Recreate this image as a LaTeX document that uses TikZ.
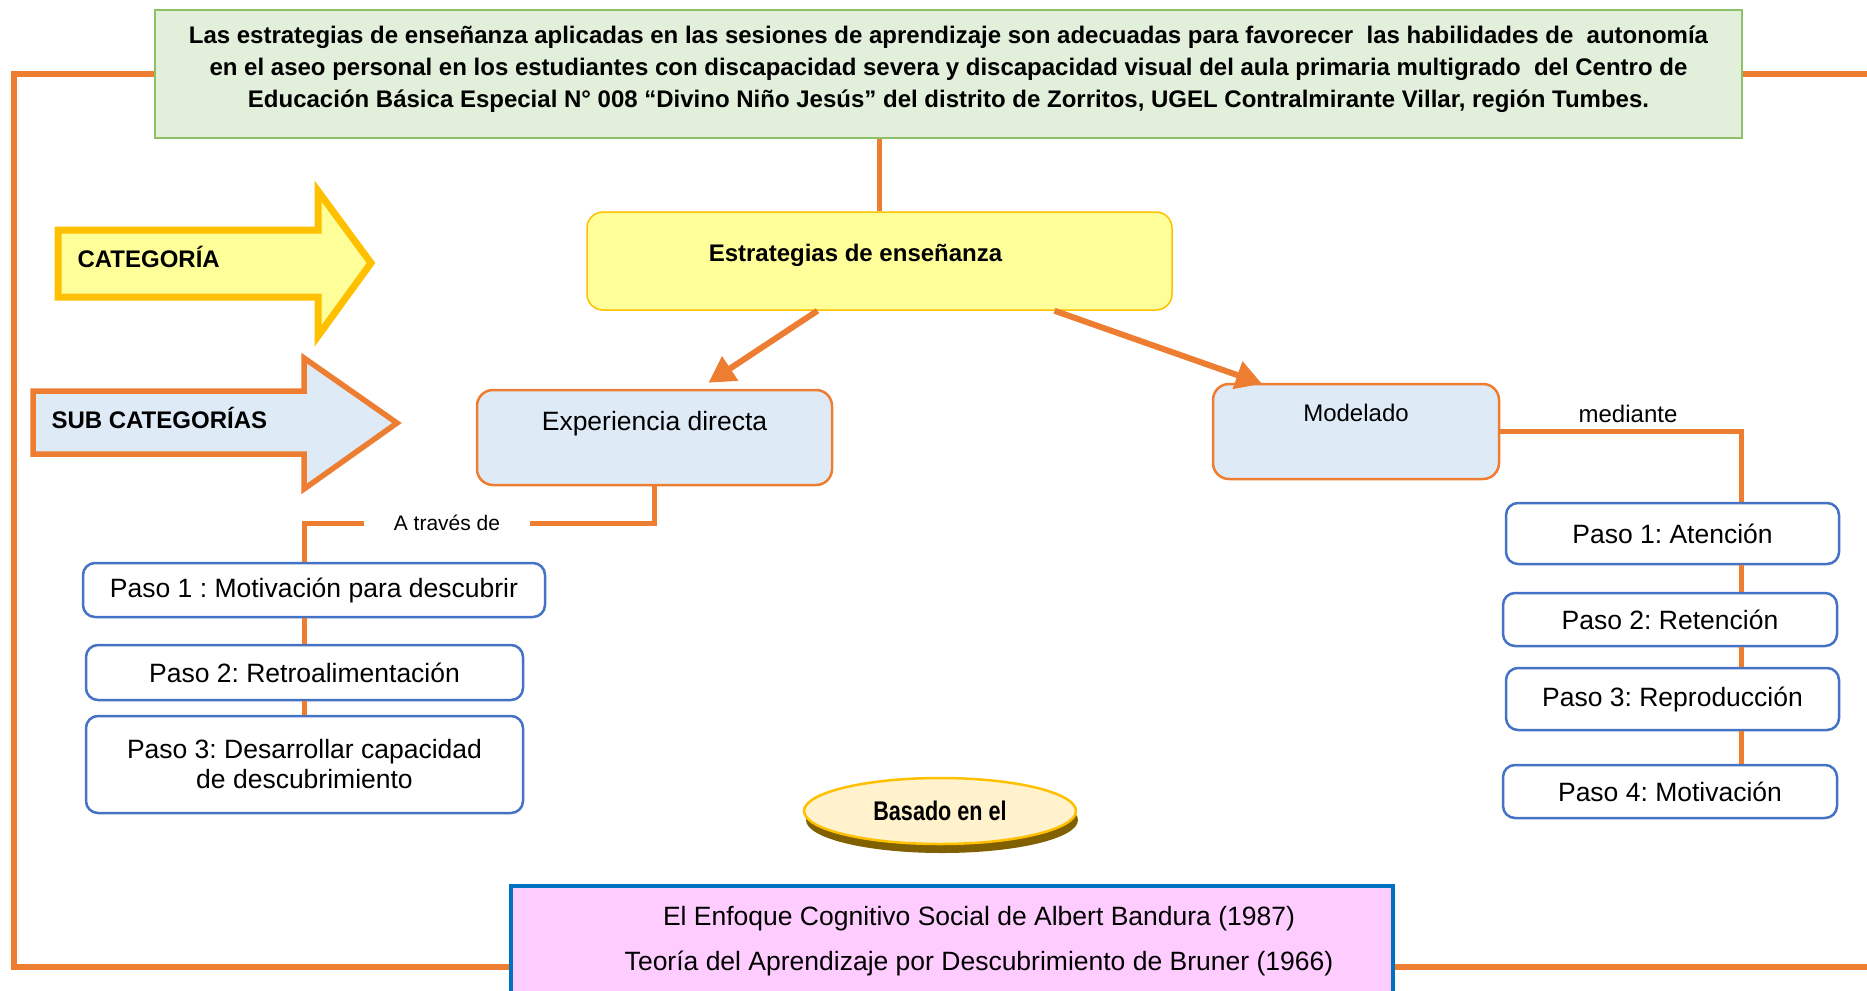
\documentclass[tikz,border=0pt]{standalone}
\usepackage{fontspec}
\setmainfont{Liberation Sans}
\newfontfamily\estrecha[FakeStretch=0.8]{Liberation Sans}
\usetikzlibrary{arrows.meta, shapes.geometric, shadows, positioning, calc}
\tikzset{>=Stealth}
\frenchspacing

\definecolor{naranja}{HTML}{ED7D31}
\definecolor{verdeclaro}{HTML}{E2EFDA}
\definecolor{verdeborde}{HTML}{8CC168}
\definecolor{amarillo}{HTML}{FFFF99}
\definecolor{oro}{HTML}{FFC000}
\definecolor{celeste}{HTML}{DEEBF7}
\definecolor{azulpaso}{HTML}{4472C4}
\definecolor{azulborde}{HTML}{0070C0}
\definecolor{rosa}{HTML}{FFCCFF}
\definecolor{crema}{HTML}{FFF2CC}
\definecolor{sombra}{HTML}{806000}

\tikzset{
  enlace/.style={draw=naranja, line width=5pt},
  marco/.style={draw=naranja, line width=6pt},
  flecha/.style={draw=naranja, line width=6pt, -{Triangle[length=26pt,width=28pt]}},
  pasobox/.style={draw=azulpaso, line width=2.5pt, fill=white, rounded corners=12pt,
    inner sep=0pt, align=center, font=\fontsize{26.5}{30}\selectfont},
  subbox/.style={draw=naranja, line width=2.5pt, fill=celeste, rounded corners=16pt,
    inner sep=0pt},
}

\begin{document}
\begin{tikzpicture}[x=1pt, y=-1pt]
\useasboundingbox (0,0) rectangle (1867,990);

\draw[draw=oro, fill=amarillo, line width=7pt, line join=miter]
  (58,230) -- (318,230) -- (318,191) -- (371,263) -- (318,336) -- (318,297) -- (58,297) -- cycle;
\draw[draw=naranja, fill=celeste, line width=5.5pt, line join=miter]
  (33,391) -- (304,391) -- (304,358) -- (397,423) -- (304,489) -- (304,454) -- (33,454) -- cycle;
\node[anchor=west, font=\bfseries\fontsize{24}{28}\selectfont] (cat) at (74,257) {CATEGORÍA};
\node[anchor=west, font=\bfseries\fontsize{24}{28}\selectfont] (subcat) at (48,418) {SUB CATEGORÍAS};

\node[draw=verdeborde, line width=2pt, fill=verdeclaro, minimum width=1587pt, minimum height=128pt,
  align=center, font=\bfseries\fontsize{24}{32}\selectfont] (hip) at (948.5,74)
  {Las estrategias de enseñanza aplicadas en las sesiones de aprendizaje son adecuadas para favorecer~ las habilidades de~ autonomía\\
   en el aseo personal en los estudiantes con discapacidad severa y discapacidad visual del aula primaria multigrado~ del Centro de\\
   Educación Básica Especial N° 008 “Divino Niño Jesús” del distrito de Zorritos, UGEL Contralmirante Villar, región Tumbes.\\[-18pt]\mbox{}};

\node[draw=oro, line width=1.5pt, fill=amarillo, rounded corners=16pt, inner sep=0pt,
  minimum width=585pt, text height=49pt, text depth=49pt,
  font=\bfseries\fontsize{24}{28}\selectfont] (estr) at (879.5,261) {Estrategias de enseñanza\hspace*{48pt}};

\node[subbox, minimum width=355pt, text height=40pt, text depth=55pt,
  font=\fontsize{26.5}{30}\selectfont] (expd) at (654.5,437.5) {Experiencia directa};
\node[subbox, minimum width=286pt, text height=37pt, text depth=58pt,
  font=\fontsize{24}{28}\selectfont] (model) at (1356,431.5) {Modelado};

\node[pasobox, minimum width=462pt, minimum height=54pt] (lp1) at (314,590) {Paso 1 : Motivación para descubrir};
\node[pasobox, minimum width=437pt, minimum height=55pt] (lp2) at (304.5,672.5) {Paso 2: Retroalimentación};
\node[pasobox, minimum width=437pt, minimum height=97pt] (lp3) at (304.5,764.5) {Paso 3: Desarrollar capacidad\\de descubrimiento};

\node[pasobox, minimum width=333pt, minimum height=61pt] (rp1) at (1672.5,533.5) {Paso 1: Atención};
\node[pasobox, minimum width=334pt, minimum height=53pt] (rp2) at (1670,619.5) {Paso 2: Retención};
\node[pasobox, minimum width=333pt, minimum height=62pt] (rp3) at (1672.5,699) {Paso 3: Reproducción};
\node[pasobox, minimum width=334pt, minimum height=53pt] (rp4) at (1670,791.5) {Paso 4: Motivación};

\node[font=\fontsize{21}{24}\selectfont, inner xsep=30pt] (atraves) at (447,523) {A través de};
\node[font=\fontsize{24}{28}\selectfont] (mediante) at (1628,414) {mediante};

\node[ellipse, draw=oro, line width=2.5pt, fill=crema, minimum width=272pt, minimum height=66pt, inner sep=0pt,
  drop shadow={fill=sombra, opacity=1, shadow xshift=2pt, shadow yshift=-9pt},
  font=\estrecha\bfseries\fontsize{27}{30}\selectfont] (basado) at (940,811) {Basado en el};

\node[draw=azulborde, line width=4pt, fill=rosa, anchor=north, minimum width=882pt, minimum height=110pt,
  align=center, font=\fontsize{26.5}{45}\selectfont] (teo) at (952,884)
  {\hspace*{54pt}El Enfoque Cognitivo Social de Albert Bandura (1987)\\
   \hspace*{54pt}Teoría del Aprendizaje por Descubrimiento de Bruner (1966)};

\coordinate (fl) at (14,967);
\coordinate (fr) at (1867,967);
\coordinate (aline) at (304.5,0);
\coordinate (mline) at (1741,0);

\draw[marco] (hip.west) -| (fl) -- (fl -| teo.west);
\draw[marco] (hip.east) -- (hip.east -| fr);
\draw[marco] (fr -| teo.east) -- (fr);

\draw[enlace] (estr.north) -- (estr.north |- hip.south);
\draw[flecha] ([xshift=-62pt]estr.south) -- ([xshift=54pt,yshift=6pt]expd.north);
\draw[flecha] ([xshift=175pt]estr.south) -- ([xshift=-94pt,yshift=-1pt]model.north);

\draw[enlace] (expd.south) |- (atraves.east);
\draw[enlace] (atraves.west) -| (aline |- lp1.north);
\draw[enlace] (aline |- lp1.south) -- (aline |- lp2.north);
\draw[enlace] (aline |- lp2.south) -- (aline |- lp3.north);

\draw[enlace] (model.east) -| (mline |- rp1.north);
\draw[enlace] (mline |- rp1.south) -- (mline |- rp2.north);
\draw[enlace] (mline |- rp2.south) -- (mline |- rp3.north);
\draw[enlace] (mline |- rp3.south) -- (mline |- rp4.north);
\end{tikzpicture}
\end{document}
